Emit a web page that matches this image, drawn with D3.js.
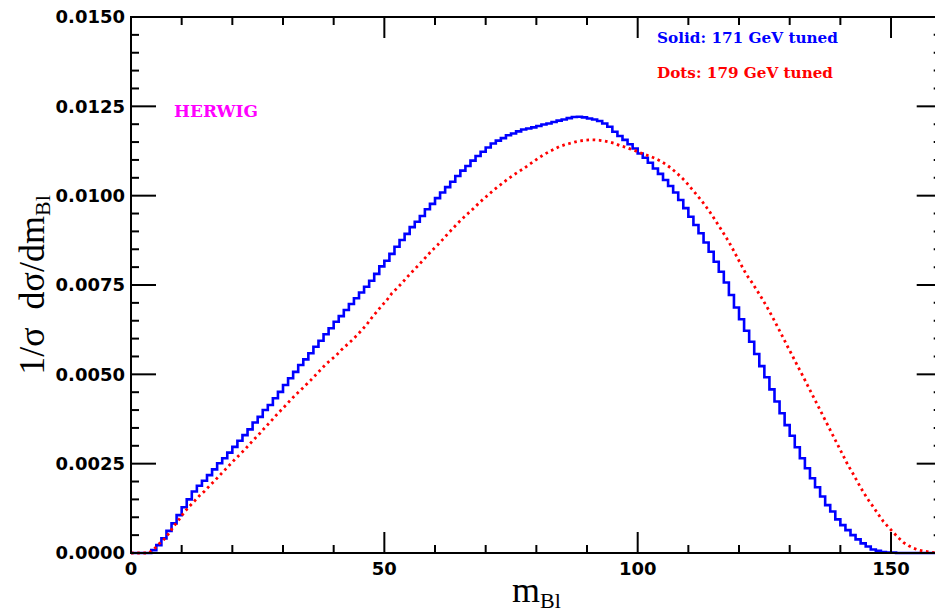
<!DOCTYPE html>
<html>
<head>
<meta charset="utf-8">
<script src="https://cdn.jsdelivr.net/npm/d3@7"></script>
<style>
  html, body { margin: 0; padding: 0; background: #fff; }
  svg { display: block; }
</style>
</head>
<body>
<div id="chart"></div>
<script>
// 1 GeV bins, 0..159
const solid171 = [
  0, 0, 0, 0, 0.00008, 0.00022, 0.00041, 0.00062, 0.00083, 0.00106,
  0.00128, 0.0015, 0.00172, 0.00188, 0.00202, 0.00218, 0.00234, 0.00251, 0.00265, 0.00281,
  0.00297, 0.00314, 0.0033, 0.00346, 0.00365, 0.00381, 0.004, 0.00414, 0.00433, 0.00451,
  0.0047, 0.00489, 0.00507, 0.00526, 0.00542, 0.00559, 0.00577, 0.00594, 0.00612, 0.00629,
  0.00647, 0.00663, 0.0068, 0.00697, 0.00713, 0.00729, 0.00745, 0.00762, 0.00781, 0.00802,
  0.00818, 0.00837, 0.00857, 0.00876, 0.00893, 0.00912, 0.00927, 0.00943, 0.00962, 0.00977,
  0.00993, 0.01009, 0.01024, 0.01039, 0.01055, 0.0107, 0.01083, 0.01098, 0.01111, 0.01123,
  0.01135, 0.01146, 0.01154, 0.01161, 0.01169, 0.01174, 0.0118, 0.01185, 0.01188, 0.01191,
  0.01195, 0.01199, 0.01202, 0.01206, 0.0121, 0.01213, 0.01217, 0.0122, 0.01221, 0.01219,
  0.01216, 0.01213, 0.01209, 0.01202, 0.01193, 0.01179, 0.01167, 0.01156, 0.01144, 0.01132,
  0.01118, 0.01106, 0.01092, 0.01076, 0.01061, 0.01044, 0.01027, 0.01009, 0.00988, 0.00965,
  0.00941, 0.00918, 0.00895, 0.00869, 0.00843, 0.00815, 0.00787, 0.00757, 0.00722, 0.00687,
  0.00654, 0.00622, 0.00591, 0.00557, 0.00523, 0.00492, 0.00458, 0.00424, 0.00391, 0.00358,
  0.00328, 0.00296, 0.00265, 0.00237, 0.00209, 0.00184, 0.00158, 0.00134, 0.00116, 0.00094,
  0.00078, 0.00064, 0.0005, 0.00038, 0.00027, 0.00018, 0.0001, 0.00006, 0.00003, 0.00001,
  0.00001, 0, 0, 0, 0, 0, 0, 0, 0, 0
];

const dots179 = [
  0, 0, 0, 0, 0.0001, 0.00025, 0.00038, 0.00055, 0.00076, 0.00094,
  0.00114, 0.0013, 0.00145, 0.0016, 0.00173, 0.00188, 0.00202, 0.00217, 0.00232, 0.00247,
  0.00262, 0.00276, 0.0029, 0.00306, 0.00321, 0.00336, 0.00352, 0.00367, 0.00383, 0.00398,
  0.00413, 0.00428, 0.00443, 0.00456, 0.0047, 0.00484, 0.00499, 0.00514, 0.00529, 0.00541,
  0.00553, 0.00568, 0.00581, 0.00594, 0.00608, 0.00623, 0.00639, 0.00658, 0.00675, 0.00692,
  0.00708, 0.00727, 0.00741, 0.00756, 0.00772, 0.00787, 0.00802, 0.00817, 0.00833, 0.00848,
  0.00862, 0.00877, 0.00893, 0.00908, 0.00923, 0.00937, 0.0095, 0.00963, 0.00977, 0.0099,
  0.01002, 0.01015, 0.01026, 0.01037, 0.01048, 0.01058, 0.01067, 0.01076, 0.01086, 0.01096,
  0.01106, 0.01115, 0.01123, 0.0113, 0.01137, 0.01142, 0.01146, 0.0115, 0.01153, 0.01155,
  0.01156, 0.01156, 0.01155, 0.01153, 0.0115, 0.01146, 0.0114, 0.01136, 0.01131, 0.01126,
  0.0112, 0.01115, 0.0111, 0.01104, 0.01097, 0.01088, 0.01078, 0.01066, 0.01053, 0.01039,
  0.01022, 0.01005, 0.00988, 0.00969, 0.00949, 0.00927, 0.00905, 0.00882, 0.00858, 0.00831,
  0.00804, 0.00778, 0.00758, 0.00736, 0.00713, 0.00689, 0.00663, 0.00636, 0.00608, 0.0058,
  0.00553, 0.00525, 0.00498, 0.0047, 0.00442, 0.00414, 0.00386, 0.00358, 0.0033, 0.00302,
  0.00274, 0.00246, 0.00222, 0.00196, 0.00171, 0.00149, 0.00129, 0.00108, 0.00088, 0.00072,
  0.00057, 0.00042, 0.00029, 0.0002, 0.00013, 0.00008, 0.00005, 0.00003, 0.00001, 0
];

const xMajor = [0, 50, 100, 150];
const yMajor = [0, 0.0025, 0.005, 0.0075, 0.01, 0.0125, 0.015];
const legendLines = [
  { text: 'Solid: 171 GeV tuned', color: '#0000ff', len: 181 },
  { text: 'Dots: 179 GeV tuned', color: '#ff0000', len: 176 }
];

const W = 935;
const H = 615;
const plotL = 131, plotR = 941.7, plotT = 17, plotB = 553;

const x = d3.scaleLinear().domain([0, 160]).range([plotL, plotR]);
const y = d3.scaleLinear().domain([0, 0.015]).range([plotB, plotT]);

const svg = d3.select('#chart').append('svg')
  .attr('width', W)
  .attr('height', H);

// curves first, frame on top
const stepPts = solid171.map((v, i) => [i, v]);
stepPts.push([solid171.length, solid171[solid171.length - 1]]);
svg.append('path')
  .attr('d', d3.line().x((d) => x(d[0])).y((d) => y(d[1])).curve(d3.curveStepAfter)(stepPts))
  .attr('fill', 'none')
  .attr('stroke', '#0000ff')
  .attr('stroke-width', 2.6);

const dotPts = [[0, 0]].concat(dots179.map((v, i) => [i + 0.5, v]));
svg.append('path')
  .attr('d', d3.line().x((d) => x(d[0])).y((d) => y(d[1]))(dotPts))
  .attr('fill', 'none')
  .attr('stroke', '#ff0000')
  .attr('stroke-width', 2.8)
  .attr('stroke-dasharray', '2.6,3.6');

// frame
const frame = svg.append('g').attr('stroke', '#000').attr('stroke-width', 2);
frame.append('rect')
  .attr('x', plotL).attr('y', plotT)
  .attr('width', plotR - plotL).attr('height', plotB - plotT)
  .attr('fill', 'none');

const xMinor = d3.range(0, 161, 10).filter((v) => !xMajor.includes(v));
const yMinor = d3.range(0, 31).map((i) => i * 0.0005).filter((_, i) => i % 5 !== 0);

[[xMajor, 21], [xMinor, 8]].forEach(([vals, len]) => {
  vals.forEach((v) => {
    frame.append('line').attr('x1', x(v)).attr('x2', x(v)).attr('y1', plotB).attr('y2', plotB - len);
    frame.append('line').attr('x1', x(v)).attr('x2', x(v)).attr('y1', plotT).attr('y2', plotT + len);
  });
});
[[yMajor, 25], [yMinor, 8]].forEach(([vals, len]) => {
  vals.forEach((v) => {
    frame.append('line').attr('x1', plotL).attr('x2', plotL + len).attr('y1', y(v)).attr('y2', y(v));
    frame.append('line').attr('x1', plotR).attr('x2', plotR - len).attr('y1', y(v)).attr('y2', y(v));
  });
});

// tick labels
const tickFont = "'DejaVu Sans', sans-serif";
svg.append('g').selectAll('text').data(xMajor).join('text')
  .attr('x', (d) => x(d))
  .attr('y', 575)
  .attr('text-anchor', 'middle')
  .attr('font-family', tickFont)
  .attr('font-weight', 'bold')
  .attr('font-size', 18)
  .text((d) => d);

svg.append('g').selectAll('text').data(yMajor).join('text')
  .attr('x', 125)
  .attr('y', (d) => y(d))
  .attr('dy', '0.36em')
  .attr('text-anchor', 'end')
  .attr('font-family', tickFont)
  .attr('font-weight', 'bold')
  .attr('font-size', 18)
  .text((d) => d.toFixed(4));

// axis titles
const serif = "'Liberation Serif', 'Times New Roman', serif";
const xt = svg.append('text')
  .attr('x', (plotL + plotR) / 2)
  .attr('y', 602)
  .attr('text-anchor', 'middle')
  .attr('font-family', serif)
  .attr('font-size', 36);
xt.append('tspan').text('m');
xt.append('tspan').attr('font-size', 22).attr('dy', 6).text('Bl');

const yt = svg.append('text')
  .attr('transform', `translate(44, ${(plotT + plotB) / 2}) rotate(-90)`)
  .attr('text-anchor', 'middle')
  .attr('font-family', serif)
  .attr('font-size', 36);
yt.append('tspan').text('1/σ\u00a0\u00a0dσ/dm');
yt.append('tspan').attr('font-size', 22).attr('dy', 6).text('Bl');

// legend and generator label
const boldSerif = "'DejaVu Serif', serif";
svg.append('g').selectAll('text').data(legendLines).join('text')
  .attr('x', 657)
  .attr('y', (d, i) => 43 + i * 35)
  .attr('font-family', boldSerif)
  .attr('font-weight', 'bold')
  .attr('font-size', 14.5)
  .attr('textLength', (d) => d.len)
  .attr('lengthAdjust', 'spacingAndGlyphs')
  .attr('fill', (d) => d.color)
  .text((d) => d.text);

svg.append('text')
  .attr('x', 174)
  .attr('y', 117)
  .attr('font-family', boldSerif)
  .attr('font-weight', 'bold')
  .attr('font-size', 17)
  .attr('textLength', 84)
  .attr('lengthAdjust', 'spacingAndGlyphs')
  .attr('fill', '#ff00ff')
  .text('HERWIG');
</script>
</body>
</html>
